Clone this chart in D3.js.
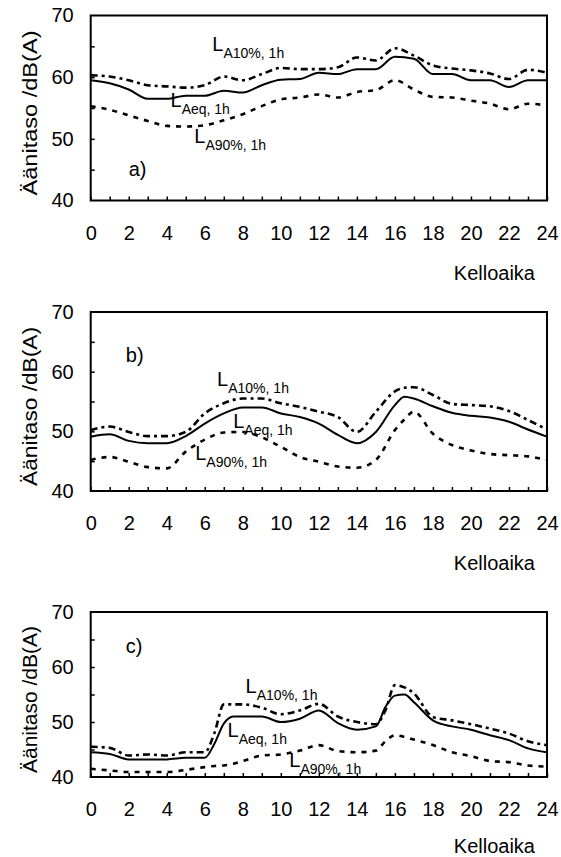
<!DOCTYPE html>
<html>
<head>
<meta charset="utf-8">
<script src="https://cdn.jsdelivr.net/npm/d3@7"></script>
<style>
  body { margin: 0; background: #fff; }
  svg { display: block; font-family: "Liberation Sans", Arial, sans-serif; }
</style>
</head>
<body>
<svg id="chart" width="561" height="857"></svg>
<script>
// hours of day, one array per panel (a few half-hour points where the curve bends)
var hoursA = [0,1,2,3,4,5,6,7,8,9,10,11,12,13,14,15,16,17,18,19,20,21,22,23,24];
var hoursB = [0,1,2,3,4,5,6,7,8,9,10,11,12,13,14,15,16,16.5,17,18,19,20,21,22,23,24];
var hoursC = [0,1,2,3,4,5,6,6.5,7,7.5,8,9,10,11,12,13,14,15,15.5,16,16.5,17,18,19,20,21,22,23,24];

// panel a)
var aeqA = [59.5,59.0,58.0,56.5,56.5,57.0,57.0,57.8,57.5,58.7,59.6,59.7,60.7,60.5,61.3,61.3,63.3,63.0,60.5,60.5,59.5,59.5,58.4,59.5,59.5];
var a10A = [60.3,60.1,59.5,58.7,58.5,58.3,58.7,60.1,59.5,60.5,61.5,61.3,61.3,61.6,63.2,62.7,64.7,63.5,61.9,61.4,61.1,60.6,59.7,61.2,60.7];
var a90A = [55.3,54.7,53.8,52.9,52.1,52.0,52.2,53.0,54.0,55.3,56.4,56.7,57.2,56.7,57.6,57.9,59.5,58.0,56.8,56.7,56.2,55.7,54.8,55.7,55.4];

// panel b)
var aeqB = [49.1,49.5,48.4,48.0,48.0,49.2,51.3,53.0,54.0,54.0,53.0,52.4,51.3,49.4,48.0,49.9,54.4,55.8,55.5,54.2,53.1,52.6,52.3,51.6,50.3,49.1];
var a10B = [50.2,50.8,49.9,49.2,49.2,49.9,53.0,54.7,55.5,55.5,54.7,54.1,53.3,52.4,49.9,53.3,56.7,57.3,57.4,56.1,54.6,54.4,54.2,53.4,51.9,50.3];
var a90B = [45.2,45.7,44.9,44.0,43.8,46.6,48.6,49.8,49.9,49.0,47.4,45.7,44.9,44.1,43.9,45.2,50.2,52.0,53.3,49.6,47.7,46.8,46.2,46.0,45.8,45.2];

// panel c)
var aeqC = [44.5,44.2,43.2,43.2,43.2,43.5,43.5,46.0,49.7,51.0,51.0,51.0,50.0,50.6,52.1,49.8,48.6,49.2,52.7,54.8,55.0,53.6,50.3,49.2,48.6,47.6,46.7,45.2,44.5];
var a10C = [45.5,45.3,43.9,44.1,43.9,44.5,44.5,47.9,53.2,53.2,53.2,52.6,51.4,52.1,53.3,51.0,50.0,49.6,52.1,56.7,56.3,55.2,50.9,50.3,49.6,48.8,47.9,46.5,45.8];
var a90C = [41.5,41.2,40.9,40.9,40.9,41.3,41.8,42.0,42.1,42.4,42.9,43.9,44.1,44.8,45.8,44.7,44.5,44.8,46.5,47.6,47.3,46.8,45.8,44.5,43.8,42.9,42.7,42.1,41.9];

var xTicks = [0,2,4,6,8,10,12,14,16,18,20,22,24];
var yTicks = [40,50,60,70];
var yTitle = "Äänitaso /dB(A)";
var xTitle = "Kelloaika";
var seriesNames = ["Aeq, 1h", "A10%, 1h", "A90%, 1h"];

var panels = [
  { tag: "a)", top: 15.5, bottom: 200.5, hours: hoursA, series: [aeqA, a10A, a90A],
    labels: [[4.25, 55.2], [6.45, 64.3], [5.5, 49.4]], tagPos: [2.0, 44.0] },
  { tag: "b)", top: 312, bottom: 491, hours: hoursB, series: [aeqB, a10B, a90B],
    labels: [[7.55, 50.5], [6.7, 57.6], [5.55, 45.2]], tagPos: [1.85, 61.6] },
  { tag: "c)", top: 612, bottom: 777, hours: hoursC, series: [aeqC, a10C, a90C],
    labels: [[7.25, 47.3], [8.2, 55.2], [10.5, 41.8]], tagPos: [1.85, 62.6] }
];

var left = 90.7, right = 547;
var styles = [
  { width: 2, dash: null },
  { width: 2.6, dash: "7,4,3,4" },
  { width: 2.6, dash: "5,6" }
];

var svg = d3.select("#chart");

panels.forEach(function(p) {
  var x = d3.scaleLinear().domain([0, 24]).range([left, right]);
  var y = d3.scaleLinear().domain([40, 70]).range([p.bottom, p.top]);
  var g = svg.append("g");

  // inside ticks
  g.append("g")
    .attr("transform", "translate(0," + p.bottom + ")")
    .call(d3.axisBottom(x).ticks(24).tickSizeInner(-4).tickSizeOuter(0).tickFormat(""))
    .call(function(a) { a.select(".domain").remove(); a.selectAll("line").attr("stroke-width", 1.5); });
  g.append("g")
    .attr("transform", "translate(" + left + ",0)")
    .call(d3.axisLeft(y).tickValues([45,50,55,60,65]).tickSizeInner(-4).tickSizeOuter(0).tickFormat(""))
    .call(function(a) { a.select(".domain").remove(); a.selectAll("line").attr("stroke-width", 1.5); });

  // tick labels
  g.append("g")
    .attr("transform", "translate(0," + p.bottom + ")")
    .call(d3.axisBottom(x).tickValues(xTicks).tickSize(0).tickPadding(25))
    .call(function(a) { a.select(".domain").remove();
      a.selectAll("text").attr("font-size", 20).attr("font-family", "Liberation Sans, Arial, sans-serif").attr("fill", "#000"); });
  g.append("g")
    .attr("transform", "translate(" + left + ",0)")
    .call(d3.axisLeft(y).tickValues(yTicks).tickSize(0).tickPadding(17))
    .call(function(a) { a.select(".domain").remove();
      a.selectAll("text").attr("font-size", 20).attr("font-family", "Liberation Sans, Arial, sans-serif").attr("fill", "#000"); });

  // frame
  g.append("rect")
    .attr("x", left).attr("y", p.top)
    .attr("width", right - left).attr("height", p.bottom - p.top)
    .attr("fill", "none").attr("stroke", "#000").attr("stroke-width", 2);

  // series
  var line = d3.line()
    .x(function(d, i) { return x(p.hours[i]); })
    .y(function(d) { return y(d); })
    .curve(d3.curveMonotoneX);
  p.series.forEach(function(s, k) {
    g.append("path")
      .datum(s)
      .attr("d", line)
      .attr("fill", "none")
      .attr("stroke", "#000")
      .attr("stroke-width", styles[k].width)
      .attr("stroke-dasharray", styles[k].dash);
  });

  // series labels: big L with subscript
  p.labels.forEach(function(pos, k) {
    var t = g.append("text")
      .attr("x", x(pos[0]) - 1)
      .attr("y", y(pos[1]))
      .attr("font-size", 20);
    t.append("tspan").text("L");
    t.append("tspan").attr("font-size", 14).attr("dy", 7).text(seriesNames[k]);
  });

  g.append("text")
    .attr("x", x(p.tagPos[0])).attr("y", y(p.tagPos[1]))
    .attr("font-size", 20).text(p.tag);

  // axis titles
  var h = p.bottom - p.top;
  g.append("text")
    .attr("transform", "translate(37," + ((p.top + p.bottom) / 2 + 5) + ") rotate(-90)")
    .attr("text-anchor", "middle")
    .attr("font-size", 20)
    .attr("textLength", Math.round(h * 0.89))
    .attr("lengthAdjust", "spacingAndGlyphs")
    .text(yTitle);
  g.append("text")
    .attr("x", 535).attr("y", p.bottom + 79 - (p.tag == "c)" ? 3 : 0))
    .attr("text-anchor", "end")
    .attr("font-size", 20).text(xTitle);
});
</script>
</body>
</html>
